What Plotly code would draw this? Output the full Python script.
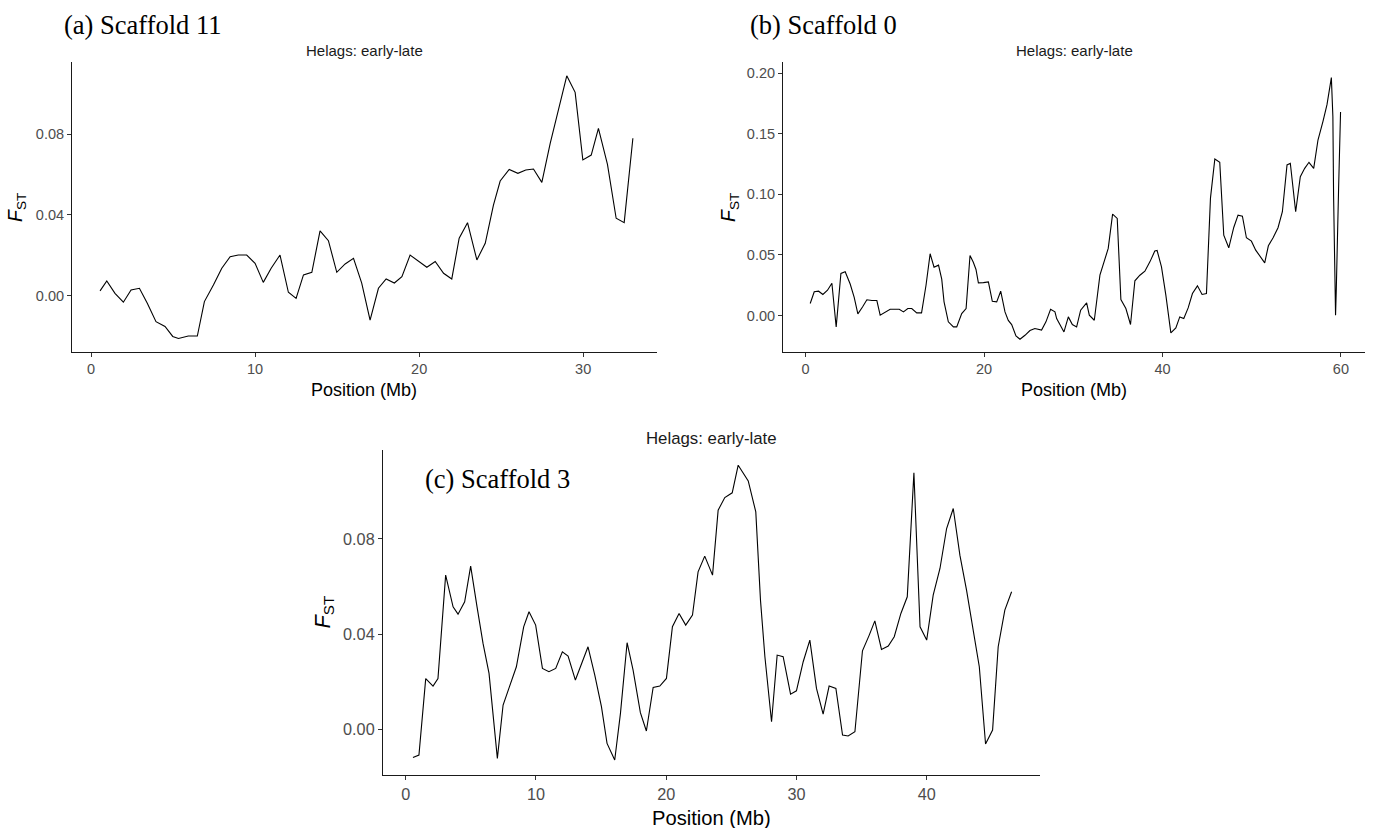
import plotly.graph_objects as go

# ---------------- data ----------------
# (a) Scaffold 11
a_pos = [0.55, 0.96, 1.46, 1.97, 2.44, 2.95, 3.43, 3.96, 4.51, 4.98, 5.33, 5.93, 6.48, 6.91, 7.46,
         7.97, 8.48, 8.98, 9.49, 10.0, 10.5, 10.98, 11.52, 12.03, 12.5, 12.95, 13.46, 13.96, 14.47,
         14.98, 15.49, 16.0, 16.5, 17.01, 17.52, 17.99, 18.49, 18.95, 19.45, 19.96, 20.47, 20.98,
         21.49, 21.99, 22.44, 22.95, 23.52, 24.03, 24.53, 24.94, 25.49, 26.02, 26.5, 26.97, 27.48,
         27.99, 28.5, 29.0, 29.51, 29.98, 30.49, 30.93, 31.48, 32.01, 32.5, 33.03]
a_fst = [0.0025, 0.0074, 0.0013, -0.0031, 0.0030, 0.0038, -0.0036, -0.0127, -0.0151, -0.0200,
         -0.0210, -0.0198, -0.0198, -0.0028, 0.0054, 0.0137, 0.0194, 0.0202, 0.0202, 0.0161, 0.0067,
         0.0137, 0.0202, 0.0018, -0.0012, 0.0104, 0.0117, 0.0321, 0.0273, 0.0117, 0.0158, 0.0186,
         0.0063, -0.0119, 0.0038, 0.0084, 0.0064, 0.0095, 0.0202, 0.0170, 0.0142, 0.0170, 0.0112,
         0.0084, 0.0285, 0.0362, 0.0178, 0.0260, 0.0449, 0.0568, 0.0625, 0.0606, 0.0622, 0.0627,
         0.0561, 0.0754, 0.0918, 0.1088, 0.1006, 0.0672, 0.0696, 0.0828, 0.0650, 0.0384, 0.0362,
         0.0779]

# (b) Scaffold 0
b_pos = [0.52, 0.97, 1.46, 1.94, 2.46, 2.95, 3.43, 3.96, 4.44, 5.0, 5.45, 5.86, 6.38, 6.87, 7.43,
         7.99, 8.36, 8.92, 9.48, 10.04, 10.5, 10.97, 11.46, 11.9, 12.46, 13.0, 13.5, 13.96, 14.4,
         14.9, 15.26, 15.52, 16.0, 16.57, 16.94, 17.5, 17.99, 18.43, 18.8, 19.1, 19.37, 19.93, 20.49,
         20.93, 21.42, 21.87, 22.35, 22.72, 23.1, 23.58, 24.03, 24.59, 25.15, 25.7, 26.45, 26.94,
         27.46, 27.95, 28.14, 28.96, 29.45, 29.9, 30.38, 30.83, 31.5, 31.8, 32.36, 32.99, 33.48,
         33.92, 34.41, 34.93, 35.34, 35.9, 36.42, 36.91, 37.47, 38.03, 38.59, 39.14, 39.4, 39.89,
         40.38, 40.94, 41.5, 41.94, 42.39, 42.88, 43.36, 43.92, 44.44, 44.93, 45.38, 45.87, 46.42,
         46.87, 47.43, 47.99, 48.47, 48.96, 49.41, 49.97, 50.45, 50.97, 51.46, 51.87, 52.4, 52.95,
         53.44, 53.96, 54.33, 54.93, 55.45, 55.94, 56.42, 56.95, 57.43, 57.99, 58.44, 58.93, 59.1,
         59.18, 59.29, 59.4, 59.48, 59.59, 59.74, 59.96]
b_fst = [0.0099, 0.0196, 0.0201, 0.0174, 0.0209, 0.0267, -0.0094, 0.0347, 0.0361, 0.0260, 0.0150,
         0.0014, 0.0070, 0.0130, 0.0124, 0.0124, 0.0003, 0.0030, 0.0052, 0.0052, 0.0052, 0.0030,
         0.0058, 0.0058, 0.0022, 0.0022, 0.0250, 0.0510, 0.0399, 0.0416, 0.0300, 0.0113, -0.0052,
         -0.0094, -0.0094, 0.0016, 0.0058, 0.0496, 0.0440, 0.0380, 0.0270, 0.0272, 0.0278, 0.0118,
         0.0113, 0.0201, 0.0030, -0.0040, -0.0075, -0.0168, -0.0196, -0.0163, -0.0124, -0.0107,
         -0.0120, -0.0052, 0.0052, 0.0030, -0.0025, -0.0135, -0.0011, -0.0074, -0.0094, 0.0044,
         0.0105, 0.0003, -0.0039, 0.0333, 0.0457, 0.0554, 0.0837, 0.0802, 0.0132, 0.0058, -0.0074,
         0.0287, 0.0333, 0.0366, 0.0443, 0.0532, 0.0537, 0.0402, 0.0168, -0.0143, -0.0102, -0.0011,
         -0.0025, 0.0063, 0.0182, 0.0245, 0.0174, 0.0182, 0.0969, 0.1292, 0.1265, 0.0664, 0.0559,
         0.0727, 0.0829, 0.0821, 0.0642, 0.0614, 0.0540, 0.0485, 0.0435, 0.0576, 0.0642, 0.0725,
         0.0857, 0.1243, 0.1257, 0.0857, 0.1146, 0.1215, 0.1265, 0.1215, 0.1449, 0.1603, 0.1741,
         0.1964, 0.1642, 0.0986, 0.0320, 0.0003, 0.0209, 0.0622, 0.1047, 0.1680]

# (c) Scaffold 3
c_pos = [0.56, 1.02, 1.54, 2.1, 2.48, 3.07, 3.64, 4.02, 4.53, 4.99, 5.48, 5.94, 6.4, 6.58, 7.04,
         7.48, 7.99, 8.5, 9.06, 9.47, 9.98, 10.5, 11.0, 11.52, 12.03, 12.47, 13.03, 14.0, 14.52,
         15.03, 15.46, 16.05, 16.49, 17.0, 17.46, 18.02, 18.48, 19.0, 19.51, 20.02, 20.48, 20.99,
         21.5, 22.02, 22.45, 22.96, 23.56, 23.99, 24.5, 25.07, 25.53, 26.3, 26.88, 27.24, 27.58,
         28.09, 28.52, 28.98, 29.55, 30.0, 30.52, 31.03, 31.54, 32.05, 32.51, 33.03, 33.54, 33.97,
         34.49, 35.07, 35.59, 36.02, 36.53, 37.05, 37.51, 38.02, 38.51, 39.02, 39.49, 40.0, 40.5,
         41.02, 41.53, 42.04, 42.55, 43.06, 43.57, 44.04, 44.52, 45.06, 45.49, 46.0, 46.52]
c_fst = [-0.0118, -0.0108, 0.0213, 0.0182, 0.0213, 0.0648, 0.0515, 0.0484, 0.0536, 0.0686, 0.0515,
         0.0361, 0.0235, 0.0137, -0.0122, 0.0102, 0.0179, 0.0263, 0.0431, 0.0494, 0.0438, 0.0256,
         0.0242, 0.0256, 0.0326, 0.0308, 0.0207, 0.0347, 0.0228, 0.0095, -0.0059, -0.0129, 0.0067,
         0.0364, 0.0249, 0.0070, -0.0007, 0.0176, 0.0182, 0.0214, 0.0431, 0.0487, 0.0438, 0.0480,
         0.0662, 0.0728, 0.0648, 0.0921, 0.0974, 0.0994, 0.1110, 0.1044, 0.0914, 0.0543, 0.0305,
         0.0032, 0.0312, 0.0305, 0.0148, 0.0162, 0.0284, 0.0375, 0.0172, 0.0064, 0.0182, 0.0172,
         -0.0024, -0.0028, -0.0010, 0.0330, 0.0396, 0.0456, 0.0336, 0.0350, 0.0389, 0.0487, 0.0557,
         0.1078, 0.0431, 0.0375, 0.0564, 0.0676, 0.0844, 0.0928, 0.0732, 0.0585, 0.0417, 0.0263,
         -0.0062, -0.0003, 0.0347, 0.0501, 0.0578]

panel_titles = ["Helags: early-late", "Helags: early-late", "Helags: early-late"]
panel_labels = ["(a) Scaffold 11", "(b) Scaffold 0", "(c) Scaffold 3"]
x_label = "Position (Mb)"
y_label = "<i>F</i><sub>ST</sub>"

a_xticks = [0, 10, 20, 30]
a_yticks = [0.00, 0.04, 0.08]
b_xticks = [0, 20, 40, 60]
b_yticks = [0.00, 0.05, 0.10, 0.15, 0.20]
c_xticks = [0, 10, 20, 30, 40]
c_yticks = [0.00, 0.04, 0.08]

# ---------------- layout geometry (pixels) ----------------
W, H = 1373, 828
boxes = {  # left, right, top, bottom
    "a": (72, 657, 62, 352),
    "b": (783, 1365, 62, 352),
    "c": (383, 1040, 450, 775),
}
# per-panel font scale (panel c is drawn larger in the reference)
fs = {"a": 1.0, "b": 1.0, "c": 1.12}
SANS = "Liberation Sans, Arial"


def xd(l, r):
    return [l / W, r / W]


def yd(t, b):
    return [1 - b / H, 1 - t / H]


fig = go.Figure()
line_style = dict(color="black", width=1.1)
fig.add_trace(go.Scatter(x=a_pos, y=a_fst, mode="lines", line=line_style, xaxis="x", yaxis="y"))
fig.add_trace(go.Scatter(x=b_pos, y=b_fst, mode="lines", line=line_style, xaxis="x2", yaxis="y2"))
fig.add_trace(go.Scatter(x=c_pos, y=c_fst, mode="lines", line=line_style, xaxis="x3", yaxis="y3"))


def common(scale):
    return dict(showline=True, linecolor="#1a1a1a", linewidth=1.1, ticks="outside", ticklen=4,
                tickcolor="#333333", tickwidth=1, showgrid=False, zeroline=False,
                tickfont=dict(family=SANS, size=14.5 * scale, color="#4d4d4d"))


def xaxis(key, rng, ticks, anchor):
    l, r, t, b = boxes[key]
    d = dict(domain=xd(l, r), range=rng, tickvals=ticks, ticktext=[str(v) for v in ticks],
             anchor=anchor)
    d.update(common(fs[key]))
    return d


def yaxis(key, rng, ticks, anchor):
    l, r, t, b = boxes[key]
    d = dict(domain=yd(t, b), range=rng, tickvals=ticks, ticktext=["%.2f" % v for v in ticks],
             anchor=anchor)
    d.update(common(fs[key]))
    return d


fig.update_layout(
    width=W, height=H, margin=dict(l=0, r=0, t=0, b=0, pad=0),
    paper_bgcolor="white", plot_bgcolor="white", showlegend=False,
    xaxis=xaxis("a", [-1.16, 34.5], a_xticks, "y"),
    yaxis=yaxis("a", [-0.0277, 0.1156], a_yticks, "x"),
    xaxis2=xaxis("b", [-2.53, 62.7], b_xticks, "y2"),
    yaxis2=yaxis("b", [-0.0301, 0.2093], b_yticks, "x2"),
    xaxis3=xaxis("c", [-1.74, 48.7], c_xticks, "y3"),
    yaxis3=yaxis("c", [-0.0192, 0.1174], c_yticks, "x3"),
)

ann = []
serif_font = dict(family="Liberation Serif, Times New Roman", size=26.5, color="black")

for key, title, ytitle_x in [("a", panel_titles[0], 16), ("b", panel_titles[1], 729),
                             ("c", panel_titles[2], 323)]:
    l, r, t, b = boxes[key]
    s = fs[key]
    cx = (l + r) / 2
    ann.append(dict(text=title, x=cx / W, y=1 - (t - 12) / H, xref="paper", yref="paper",
                    showarrow=False, font=dict(family=SANS, size=15 * s, color="#1a1a1a"),
                    xanchor="center", yanchor="middle"))
    ann.append(dict(text=x_label, x=cx / W, y=1 - (b + 38 * s) / H, xref="paper", yref="paper",
                    showarrow=False, font=dict(family=SANS, size=18 * s, color="black"),
                    xanchor="center", yanchor="middle"))
    ann.append(dict(text=y_label, x=ytitle_x / W, y=1 - ((t + b) / 2) / H, xref="paper",
                    yref="paper", showarrow=False,
                    font=dict(family=SANS, size=19.5 * s, color="black"), textangle=-90,
                    xanchor="center", yanchor="middle"))

ann.append(dict(text=panel_labels[0], x=62 / W, y=1 - 25 / H, xref="paper", yref="paper",
                showarrow=False, font=serif_font, xanchor="left", yanchor="middle"))
ann.append(dict(text=panel_labels[1], x=748 / W, y=1 - 25 / H, xref="paper", yref="paper",
                showarrow=False, font=serif_font, xanchor="left", yanchor="middle"))
ann.append(dict(text=panel_labels[2], x=423 / W, y=1 - 479 / H, xref="paper", yref="paper",
                showarrow=False, font=serif_font, xanchor="left", yanchor="middle"))

fig.update_layout(annotations=ann)
fig.write_html("out.html")
